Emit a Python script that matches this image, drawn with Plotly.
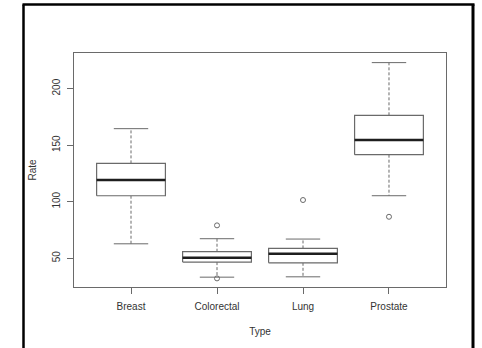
import plotly.graph_objects as go

# Cancer incidence rate by type: box-plot summary statistics
types = ["Breast", "Colorectal", "Lung", "Prostate"]
lower_whisker = [62.8, 33.3, 33.6, 105.3]
q1 = [105.3, 46.6, 46.0, 141.6]
median = [119.2, 50.4, 54.0, 154.6]
q3 = [133.9, 55.8, 58.7, 176.4]
upper_whisker = [164.6, 67.3, 67.0, 223.0]
outlier_type = ["Colorectal", "Colorectal", "Lung", "Prostate"]
outlier_rate = [79.1, 32.2, 101.5, 86.7]

y_ticks = [50, 100, 150, 200]

BOX_HALF = 0.4
STAPLE_HALF = 0.2
LINE = "#6a6a6a"
TEXT = "#333333"

pos = {t: i + 1 for i, t in enumerate(types)}

box_x, box_y = [], []
med_x, med_y = [], []
wh_x, wh_y = [], []
st_x, st_y = [], []
for t, lw, a, m, b, uw in zip(types, lower_whisker, q1, median, q3, upper_whisker):
    c = pos[t]
    box_x += [c - BOX_HALF, c + BOX_HALF, c + BOX_HALF, c - BOX_HALF, c - BOX_HALF, None]
    box_y += [a, a, b, b, a, None]
    med_x += [c - BOX_HALF, c + BOX_HALF, None]
    med_y += [m, m, None]
    wh_x += [c, c, None, c, c, None]
    wh_y += [b, uw, None, a, lw, None]
    st_x += [c - STAPLE_HALF, c + STAPLE_HALF, None, c - STAPLE_HALF, c + STAPLE_HALF, None]
    st_y += [uw, uw, None, lw, lw, None]

fig = go.Figure()
fig.add_trace(go.Scatter(x=wh_x, y=wh_y, mode="lines",
                         line=dict(color=LINE, width=1, dash="3px,2px"), hoverinfo="skip"))
fig.add_trace(go.Scatter(x=st_x, y=st_y, mode="lines",
                         line=dict(color=LINE, width=1), hoverinfo="skip"))
fig.add_trace(go.Scatter(x=box_x, y=box_y, mode="lines", fill="toself", fillcolor="white",
                         line=dict(color=LINE, width=1.2), hoverinfo="skip"))
fig.add_trace(go.Scatter(x=med_x, y=med_y, mode="lines",
                         line=dict(color="#1e1e1e", width=2.6), hoverinfo="skip"))
fig.add_trace(go.Scatter(x=[pos[t] for t in outlier_type], y=outlier_rate, mode="markers",
                         marker=dict(symbol="circle-open", size=5, color=LINE,
                                     line=dict(width=1, color=LINE)),
                         hoverinfo="skip"))

font = dict(family="Liberation Sans, Arial, sans-serif", size=10, color=TEXT)

fig.update_layout(
    width=482, height=348,
    margin=dict(l=74, r=36, t=53, b=61),
    paper_bgcolor="white", plot_bgcolor="white",
    showlegend=False,
    font=font,
    xaxis=dict(
        range=[0.337, 4.663], tickvals=[1, 2, 3, 4], ticktext=types,
        ticks="outside", ticklen=6, tickcolor=LINE, tickwidth=1,
        ticklabelstandoff=4,
        showline=True, linecolor=LINE, linewidth=1, mirror=True,
        showgrid=False, zeroline=False,
        title=dict(text="Type", standoff=16, font=font),
        tickfont=font,
    ),
    yaxis=dict(
        range=[24.6, 231.5], tickvals=y_ticks,
        ticks="outside", ticklen=6, tickcolor=LINE, tickwidth=1,
        tickangle=-90, ticklabelstandoff=3,
        showline=True, linecolor=LINE, linewidth=1, mirror=True,
        showgrid=False, zeroline=False,
        title=dict(text="Rate", standoff=12, font=font),
        tickfont=font,
    ),
    shapes=[
        # outer frame around the figure (open at the bottom edge)
        dict(type="line", xref="paper", yref="paper",
             x0=(23.5 - 74) / 372, x1=(23.5 - 74) / 372, y0=(287 - 4.5) / 234, y1=(287 - 350) / 234,
             line=dict(color="black", width=2.5)),
        dict(type="line", xref="paper", yref="paper",
             x0=(473 - 74) / 372, x1=(473 - 74) / 372, y0=(287 - 4.5) / 234, y1=(287 - 350) / 234,
             line=dict(color="black", width=3)),
        dict(type="line", xref="paper", yref="paper",
             x0=(22.5 - 74) / 372, x1=(474.5 - 74) / 372, y0=(287 - 4.5) / 234, y1=(287 - 4.5) / 234,
             line=dict(color="black", width=2.5)),
    ],
)

fig.write_html("out.html")
